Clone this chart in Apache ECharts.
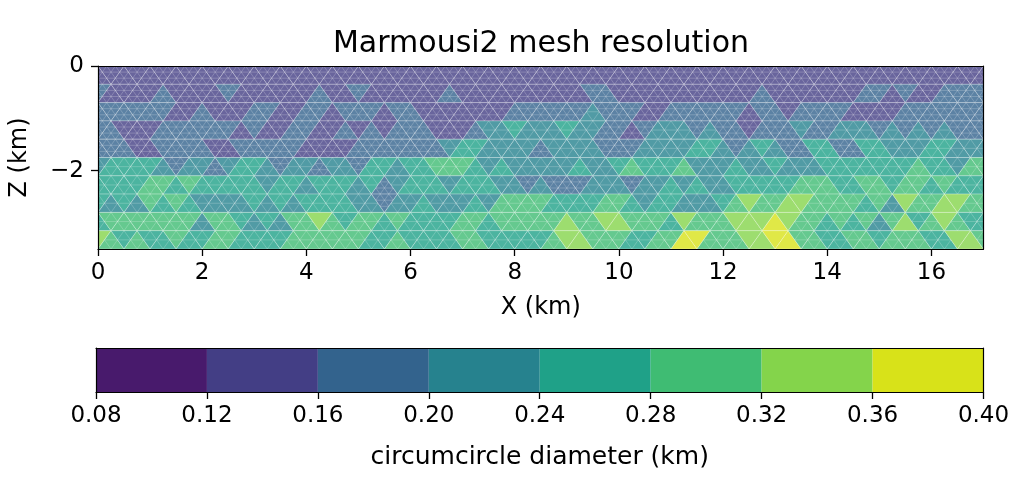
<!DOCTYPE html>
<html>
<head>
<meta charset="utf-8">
<script src="https://cdn.jsdelivr.net/npm/echarts@6/dist/echarts.min.js"></script>
<style>
  html, body { margin: 0; padding: 0; background: #fff; }
  #mesh { width: 1025px; height: 489px; }
</style>
</head>
<body>
<div id="mesh"></div>
<script>
// circumcircle diameter (km) per triangle, one band per depth row (0.35 km each), 69 triangles per band
var band0 = [
  0.14,0.14,0.14,0.14,0.14,0.14,0.14,0.14,0.14,0.14,0.14,0.14,0.14,0.14,0.14,0.14,0.14,
  0.14,0.14,0.14,0.14,0.14,0.14,0.14,0.14,0.14,0.14,0.14,0.14,0.14,0.14,0.14,0.14,0.14,
  0.14,0.14,0.14,0.14,0.14,0.14,0.14,0.14,0.14,0.14,0.14,0.14,0.14,0.14,0.14,0.14,0.14,
  0.14,0.14,0.14,0.14,0.14,0.14,0.14,0.14,0.14,0.14,0.14,0.14,0.14,0.14,0.14,0.14,0.14,0.14
];
var band1 = [
  0.18,0.14,0.14,0.14,0.14,0.18,0.14,0.14,0.14,0.14,0.18,0.14,0.14,0.14,0.14,0.14,0.14,0.18,0.14,0.14,0.18,0.14,0.14,
  0.14,0.14,0.14,0.14,0.18,0.14,0.14,0.14,0.14,0.14,0.14,0.14,0.14,0.14,0.14,0.18,0.18,0.14,0.14,0.14,0.14,0.14,
  0.14,0.14,0.14,0.14,0.14,0.14,0.18,0.14,0.14,0.14,0.14,0.14,0.14,0.14,0.18,0.18,0.14,0.18,0.14,0.14,0.18,0.18,0.18,0.18
];
var band2 = [
  0.18,0.18,0.18,0.18,0.18,0.18,0.14,0.14,0.18,0.14,0.14,0.14,0.18,0.18,0.14,0.14,0.18,0.18,0.14,0.18,0.18,0.18,0.14,
  0.18,0.18,0.14,0.14,0.14,0.14,0.14,0.14,0.14,0.18,0.18,0.18,0.18,0.18,0.18,0.22,0.18,0.18,0.18,0.14,0.14,0.18,
  0.18,0.18,0.18,0.18,0.18,0.14,0.18,0.18,0.14,0.18,0.18,0.18,0.18,0.14,0.14,0.14,0.14,0.18,0.18,0.18,0.18,0.18,0.18,0.18
];
var band3 = [
  0.18,0.18,0.14,0.14,0.14,0.18,0.18,0.18,0.18,0.18,0.18,0.14,0.18,0.14,0.14,0.18,0.18,0.14,0.14,0.18,0.14,0.18,0.14,
  0.18,0.18,0.18,0.14,0.14,0.14,0.18,0.22,0.22,0.26,0.22,0.22,0.22,0.26,0.22,0.22,0.18,0.18,0.14,0.18,0.22,0.22,
  0.22,0.18,0.22,0.18,0.18,0.14,0.18,0.18,0.18,0.22,0.18,0.18,0.22,0.22,0.22,0.18,0.22,0.18,0.22,0.18,0.22,0.18,0.18,0.18
];
var band4 = [
  0.18,0.18,0.18,0.14,0.14,0.18,0.18,0.18,0.18,0.14,0.14,0.18,0.18,0.18,0.18,0.18,0.14,0.14,0.14,0.14,0.18,0.18,0.18,
  0.18,0.18,0.18,0.18,0.22,0.26,0.26,0.22,0.22,0.22,0.22,0.18,0.22,0.22,0.22,0.22,0.18,0.18,0.18,0.22,0.22,0.22,
  0.22,0.26,0.26,0.22,0.18,0.22,0.26,0.22,0.18,0.18,0.26,0.26,0.18,0.18,0.26,0.26,0.22,0.22,0.22,0.26,0.26,0.22,0.22,0.22
];
var band5 = [
  0.22,0.26,0.26,0.26,0.26,0.22,0.18,0.22,0.22,0.18,0.22,0.26,0.26,0.22,0.18,0.22,0.22,0.18,0.22,0.22,0.18,0.26,0.26,
  0.22,0.26,0.26,0.30,0.30,0.30,0.26,0.22,0.26,0.22,0.22,0.22,0.22,0.22,0.26,0.22,0.22,0.26,0.30,0.26,0.26,0.26,
  0.30,0.22,0.22,0.22,0.26,0.22,0.22,0.26,0.22,0.22,0.22,0.26,0.26,0.26,0.26,0.26,0.26,0.26,0.30,0.26,0.26,0.22,0.30,0.30
];
var band6 = [
  0.26,0.26,0.26,0.26,0.30,0.30,0.26,0.30,0.26,0.26,0.26,0.26,0.26,0.22,0.26,0.26,0.22,
  0.26,0.26,0.26,0.22,0.26,0.18,0.22,0.26,0.26,0.26,0.22,0.26,0.26,0.26,0.22,0.22,0.18,
  0.22,0.18,0.18,0.18,0.22,0.22,0.22,0.18,0.22,0.22,0.26,0.22,0.26,0.22,0.22,0.26,0.26,
  0.26,0.26,0.26,0.30,0.30,0.30,0.26,0.26,0.30,0.30,0.26,0.30,0.30,0.26,0.30,0.26,0.26,0.26
];
var band7 = [
  0.26,0.22,0.26,0.22,0.30,0.26,0.30,0.26,0.22,0.22,0.22,0.22,0.26,0.22,0.26,0.22,0.26,
  0.26,0.26,0.26,0.22,0.22,0.18,0.22,0.22,0.26,0.22,0.22,0.22,0.26,0.22,0.30,0.30,0.30,
  0.30,0.26,0.26,0.26,0.26,0.30,0.30,0.26,0.22,0.26,0.26,0.22,0.22,0.22,0.26,0.30,0.34,
  0.30,0.30,0.34,0.34,0.30,0.30,0.30,0.30,0.26,0.30,0.22,0.34,0.30,0.30,0.34,0.34,0.30,0.30
];
var band8 = [
  0.26,0.30,0.30,0.30,0.30,0.30,0.30,0.30,0.22,0.30,0.30,0.26,0.22,0.26,0.22,0.30,0.30,
  0.34,0.30,0.26,0.30,0.30,0.26,0.30,0.26,0.26,0.26,0.26,0.30,0.30,0.26,0.30,0.30,0.30,
  0.30,0.30,0.34,0.30,0.30,0.34,0.34,0.30,0.30,0.30,0.26,0.34,0.30,0.30,0.30,0.34,0.34,
  0.34,0.38,0.34,0.30,0.30,0.26,0.30,0.26,0.30,0.22,0.30,0.34,0.26,0.30,0.34,0.30,0.26,0.26
];
var band9 = [
  0.34,0.30,0.26,0.30,0.26,0.26,0.30,0.26,0.26,0.30,0.30,0.26,0.26,0.26,0.26,0.30,0.30,
  0.30,0.30,0.30,0.30,0.26,0.26,0.30,0.26,0.26,0.26,0.26,0.30,0.30,0.26,0.26,0.26,0.26,
  0.26,0.30,0.34,0.34,0.30,0.30,0.30,0.26,0.26,0.30,0.30,0.38,0.38,0.30,0.30,0.30,0.34,
  0.34,0.38,0.38,0.30,0.30,0.26,0.26,0.30,0.30,0.26,0.30,0.30,0.30,0.26,0.26,0.34,0.34,0.30
];
var bands = [band0, band1, band2, band3, band4, band5, band6, band7, band8, band9];

// colour levels of the colorbar
var binEdges = [0.08, 0.12, 0.16, 0.20, 0.24, 0.28, 0.32, 0.36, 0.40];
var binColors = ['#481a6c', '#433e85', '#33638d', '#26828e', '#1fa188', '#3fbc73', '#84d44b', '#d8e219'];

// tick labels
var xTicks = [0, 2, 4, 6, 8, 10, 12, 14, 16];
var zTicks = [-2, 0];
var cbTicks = [0.08, 0.12, 0.16, 0.20, 0.24, 0.28, 0.32, 0.36, 0.40];

var DX = 0.25;   // half base of a triangle (km)
var DZ = 0.35;   // height of a band (km)
var FONT = 'DejaVu Sans';

var meshData = [];
bands.forEach(function (row, r) {
  row.forEach(function (d, k) { meshData.push([k, r, d]); });
});

var barData = [];
for (var i = 0; i < binColors.length; i++) {
  barData.push([binEdges[i], binEdges[i + 1], (binEdges[i] + binEdges[i + 1]) / 2]);
}

var pieces = binColors.map(function (c, i) {
  var p = { gte: binEdges[i], color: c };
  if (i === binColors.length - 1) p.lte = binEdges[i + 1]; else p.lt = binEdges[i + 1];
  return p;
});

function lerp(p, q, t) {
  return [p[0] + (q[0] - p[0]) * t, p[1] + (q[1] - p[1]) * t];
}

function renderTri(params, api) {
  var k = api.value(0), r = api.value(1), d = api.value(2);
  var up = (k + r) % 2 === 0;
  var zTop = -r * DZ, zBot = -(r + 1) * DZ;
  var zBase = up ? zBot : zTop, zApex = up ? zTop : zBot;
  var A = api.coord([(k - 1) * DX, zBase]);
  var B = api.coord([(k + 1) * DX, zBase]);
  var C = api.coord([k * DX, zApex]);
  var fill = echarts.color.modifyAlpha(api.visual('color'), 0.8);
  // finer triangles where the mesh is finer
  var n = Math.max(1, Math.round(0.46 / d));
  var path = '';
  for (var j = 1; j < n; j++) {
    var t = j / n;
    var segs = [[lerp(A, B, t), lerp(A, C, t)], [lerp(B, A, t), lerp(B, C, t)], [lerp(C, A, t), lerp(C, B, t)]];
    segs.forEach(function (s) {
      path += 'M' + s[0][0] + ' ' + s[0][1] + 'L' + s[1][0] + ' ' + s[1][1];
    });
  }
  var children = [{
    type: 'polygon',
    shape: { points: [A, B, C] },
    style: { fill: fill, stroke: 'rgba(255,255,255,0.4)', lineWidth: 0.7 }
  }];
  if (path) {
    children.push({
      type: 'path',
      shape: { pathData: path },
      style: { fill: null, stroke: 'rgba(255,255,255,0.35)', lineWidth: 0.6 }
    });
  }
  return { type: 'group', children: children };
}

function renderBin(params, api) {
  var p0 = api.coord([api.value(0), 1]);
  var p1 = api.coord([api.value(1), 0]);
  return {
    type: 'rect',
    shape: { x: p0[0], y: p0[1], width: p1[0] - p0[0], height: p1[1] - p0[1] },
    style: { fill: api.visual('color') }
  };
}

function edgeAxis(extra) {
  return Object.assign({
    type: 'value',
    axisLine: { show: true, onZero: false, lineStyle: { color: '#000', width: 1.2 } },
    axisTick: { show: false },
    axisLabel: { show: false },
    splitLine: { show: false },
    z: 5
  }, extra);
}

var tickStyle = { color: '#000', width: 1.3 };

var chart = echarts.init(document.getElementById('mesh'));
var option = {
  animation: false,
  backgroundColor: '#fff',
  textStyle: { fontFamily: FONT, color: '#000' },
  title: {
    text: 'Marmousi2 mesh resolution',
    left: 536,
    top: 24,
    textAlign: 'center',
    textStyle: { fontFamily: FONT, fontSize: 30, fontWeight: 'normal', color: '#000' }
  },
  grid: [
    { left: 96, top: 66, width: 887.5, height: 183 },
    { left: 96, top: 348, width: 887.5, height: 44 }
  ],
  visualMap: {
    type: 'piecewise',
    show: false,
    dimension: 2,
    seriesIndex: [0, 1],
    pieces: pieces
  },
  xAxis: [
    {
      type: 'value', gridIndex: 0, min: 0, max: 17, position: 'bottom', z: 5,
      name: 'X (km)', nameLocation: 'middle', nameGap: 47,
      nameTextStyle: { fontFamily: FONT, fontSize: 24, color: '#000' },
      axisLine: { show: true, onZero: false, lineStyle: { color: '#000', width: 1.2 } },
      axisTick: { show: true, inside: false, length: 7, customValues: xTicks, lineStyle: tickStyle },
      axisLabel: { customValues: xTicks, margin: 13, fontFamily: FONT, fontSize: 23, color: '#000' },
      splitLine: { show: false }
    },
    edgeAxis({ gridIndex: 0, min: 0, max: 17, position: 'top' }),
    {
      type: 'value', gridIndex: 1, min: 0.08, max: 0.40, interval: 0.04, position: 'bottom', z: 5,
      name: 'circumcircle diameter (km)', nameLocation: 'middle', nameGap: 53,
      nameTextStyle: { fontFamily: FONT, fontSize: 25, color: '#000' },
      axisLine: { show: true, onZero: false, lineStyle: { color: '#000', width: 1.2 } },
      axisTick: { show: true, inside: false, length: 7, lineStyle: tickStyle },
      axisLabel: {
        margin: 13, fontFamily: FONT, fontSize: 23, color: '#000',
        formatter: function (v) { return v.toFixed(2); }
      },
      splitLine: { show: false }
    },
    edgeAxis({ gridIndex: 1, min: 0.08, max: 0.40, position: 'top' })
  ],
  yAxis: [
    {
      type: 'value', gridIndex: 0, min: -3.5, max: 0, position: 'left', z: 5,
      name: 'Z (km)', nameLocation: 'middle', nameGap: 66, nameRotate: 90,
      nameTextStyle: { fontFamily: FONT, fontSize: 24, color: '#000' },
      axisLine: { show: true, onZero: false, lineStyle: { color: '#000', width: 1.2 } },
      axisTick: { show: true, inside: false, length: 7, customValues: zTicks, lineStyle: tickStyle },
      axisLabel: {
        customValues: zTicks, margin: 14, fontFamily: FONT, fontSize: 23, color: '#000',
        formatter: function (v) { return v < 0 ? '\u2212' + Math.abs(v) : String(v); }
      },
      splitLine: { show: false }
    },
    edgeAxis({ gridIndex: 0, min: -3.5, max: 0, position: 'right' }),
    edgeAxis({ gridIndex: 1, min: 0, max: 1, position: 'left' }),
    edgeAxis({ gridIndex: 1, min: 0, max: 1, position: 'right' })
  ],
  series: [
    {
      type: 'custom',
      xAxisIndex: 0,
      yAxisIndex: 0,
      clip: true,
      silent: true,
      renderItem: renderTri,
      data: meshData
    },
    {
      type: 'custom',
      xAxisIndex: 2,
      yAxisIndex: 2,
      silent: true,
      renderItem: renderBin,
      data: barData
    }
  ]
};
chart.setOption(option);
</script>
</body>
</html>
